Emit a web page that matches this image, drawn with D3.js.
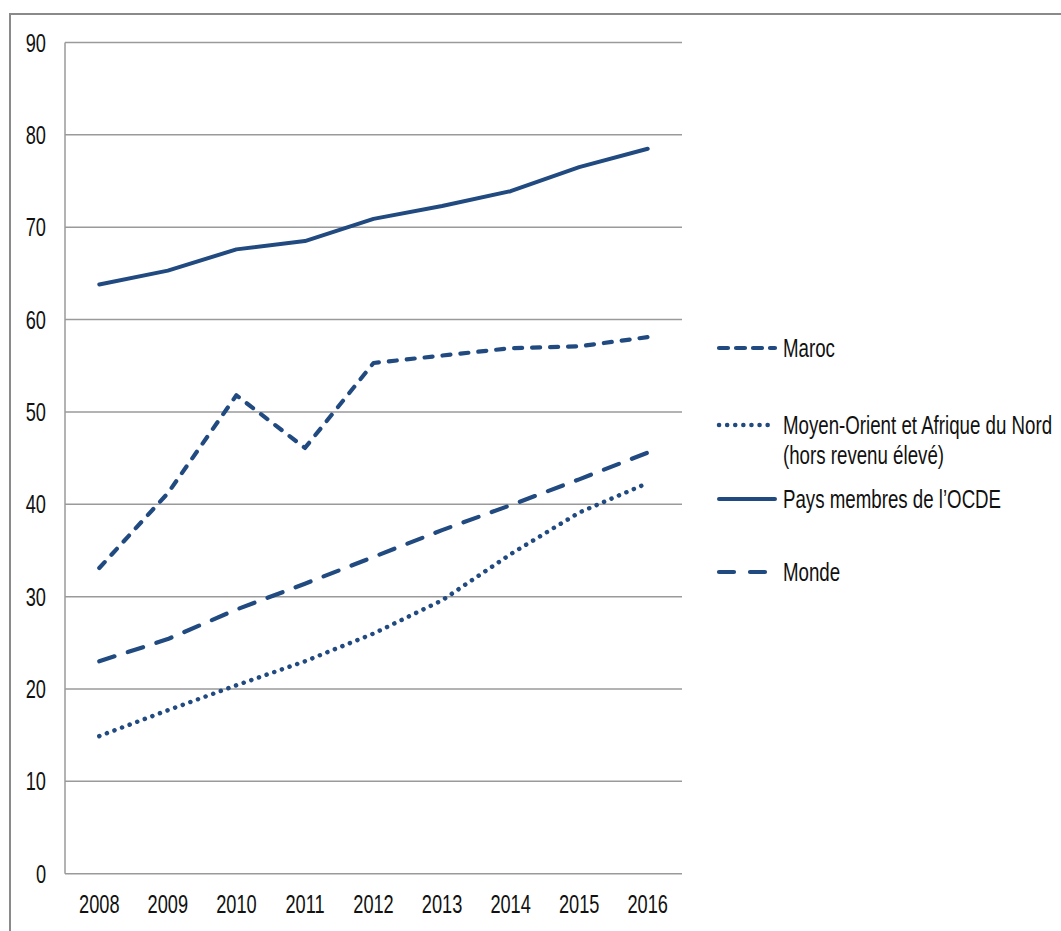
<!DOCTYPE html>
<html>
<head>
<meta charset="utf-8">
<script src="https://cdn.jsdelivr.net/npm/d3@7"></script>
<style>
  html, body { margin: 0; padding: 0; background: #fff; }
  svg { display: block; }
  text { font-family: "Liberation Sans", Arial, sans-serif; fill: #111; }
</style>
</head>
<body>
<svg id="chart" width="1061" height="931"></svg>
<script>
// Years on the horizontal axis
const years = ["2008", "2009", "2010", "2011", "2012", "2013", "2014", "2015", "2016"];

// Series values
const maroc = [33.1, 41.2, 51.8, 46.1, 55.3, 56.1, 56.9, 57.1, 58.1];
const mena  = [14.9, 17.7, 20.4, 23.0, 26.0, 29.6, 34.6, 39.1, 42.3];
const ocde  = [63.8, 65.3, 67.6, 68.5, 70.9, 72.3, 73.9, 76.5, 78.5];
const monde = [23.0, 25.4, 28.6, 31.4, 34.3, 37.2, 39.9, 42.7, 45.6];

// Y-axis tick values
const yTicks = [0, 10, 20, 30, 40, 50, 60, 70, 80, 90];

// Legend labels
const legendMaroc = "Maroc";
const legendMena = ["Moyen-Orient et Afrique du Nord", "(hors revenu élevé)"];
const legendOcde = "Pays membres de l\u2019OCDE";
const legendMonde = "Monde";

const color = "#204a80";
const gridColor = "#9a9a9a";
const stretch = 1.4;     // tall, narrow lettering
const axisFont = 18.2;
const legendFont = 18.7;

const svg = d3.select("#chart");

// Outer frame (left and top edges)
svg.append("path")
  .attr("d", "M10,931 L10,14 L1061,14")
  .attr("fill", "none")
  .attr("stroke", "#8a8a8a")
  .attr("stroke-width", 2);

const x = d3.scalePoint().domain(years).range([65, 682]).padding(0.5);
const y = d3.scaleLinear().domain([0, 90]).range([873.7, 42.5]);

// Horizontal gridlines
svg.append("g")
  .selectAll("line")
  .data(yTicks)
  .join("line")
  .attr("x1", 65).attr("x2", 682)
  .attr("y1", d => y(d)).attr("y2", d => y(d))
  .attr("stroke", gridColor)
  .attr("stroke-width", 1.5);

// Vertical axis line
svg.append("line")
  .attr("x1", 65).attr("x2", 65)
  .attr("y1", y(90)).attr("y2", y(0))
  .attr("stroke", gridColor)
  .attr("stroke-width", 1.5);

// Helper for vertically stretched text
function label(px, py, str, anchor, dy, size) {
  const g = svg.append("g").attr("transform", `translate(${px},${py}) scale(1,${stretch})`);
  g.append("text")
    .attr("x", 0).attr("y", dy)
    .attr("text-anchor", anchor)
    .attr("font-size", size)
    .text(str);
}

// Y tick labels
yTicks.forEach(t => label(46, y(t), String(t), "end", 0.358 * axisFont, axisFont));

// X tick labels
years.forEach(yr => label(x(yr), 913, yr, "middle", 0, axisFont));

// Series lines
const line = d3.line().x((d, i) => x(years[i])).y(d => y(d));

const series = [
  { values: ocde,  dash: null,    width: 4,   name: "ocde" },
  { values: maroc, dash: "8,10",  width: 4.2, name: "maroc" },
  { values: monde, dash: "16,14", width: 4.2, name: "monde" },
  { values: mena,  dash: "0.1,8", width: 4.5, name: "mena" }
];

svg.append("g")
  .selectAll("path")
  .data(series)
  .join("path")
  .attr("d", d => line(d.values))
  .attr("fill", "none")
  .attr("stroke", color)
  .attr("stroke-width", d => d.width)
  .attr("stroke-linecap", "round")
  .attr("stroke-linejoin", "round")
  .attr("stroke-dasharray", d => d.dash);

// Legend
const legendItems = [
  { y: 348, dash: "9,8",    width: 4.2, lines: [legendMaroc] },
  { y: 425, dash: "0.1,8",  width: 4.5, lines: legendMena },
  { y: 499, dash: null,     width: 4,   lines: [legendOcde] },
  { y: 572, dash: "15,16",  width: 4.2, lines: [legendMonde] }
];

const legend = svg.append("g");
legendItems.forEach(item => {
  legend.append("line")
    .attr("x1", 719).attr("x2", 775)
    .attr("y1", item.y).attr("y2", item.y)
    .attr("stroke", color)
    .attr("stroke-width", item.width)
    .attr("stroke-linecap", "round")
    .attr("stroke-dasharray", item.dash);
  item.lines.forEach((t, i) => label(783, item.y + i * 30, t, "start", 0.358 * legendFont, legendFont));
});
</script>
</body>
</html>
